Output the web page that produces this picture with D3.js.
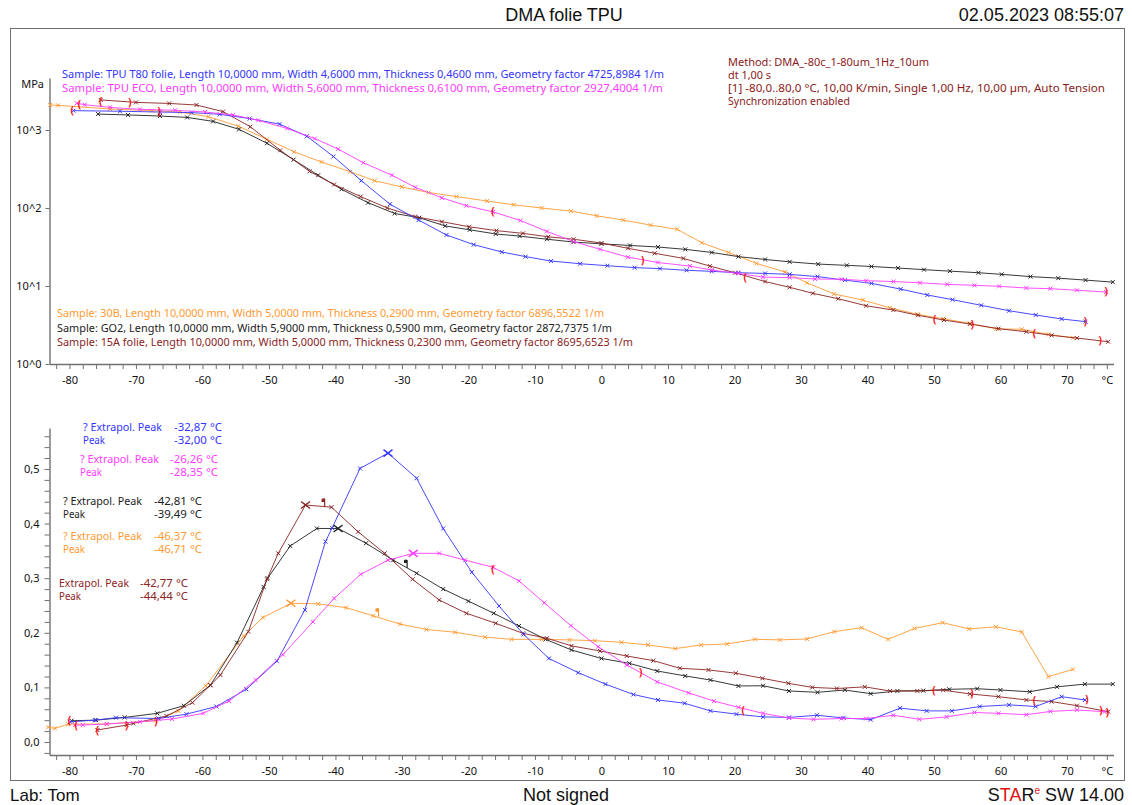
<!DOCTYPE html>
<html><head><meta charset="utf-8">
<script src="https://cdn.jsdelivr.net/npm/d3@7"></script>
<style>body{margin:0;background:#fff}svg{display:block}</style>
</head><body><svg id="c" width="1132" height="805"></svg>
<script>
// ---------- DATA ----------
// Storage modulus E' [MPa] vs temperature [°C]
const modT80 = [[-79.4,1770],[-72.4,1740],[-66.4,1700],[-61.6,1670],[-57.4,1590],[-52.9,1400],[-48.4,1190],[-44.3,832],[-40.3,457],[-36.1,224],[-31.8,112],[-27.5,70.1],[-23.3,45.1],[-19.2,33.9],[-15.0,27.3],[-11.4,23.8],[-7.6,20.9],[-3.2,19.3],[0.9,18.2],[5.0,17.2],[8.8,16.7],[12.8,15.9],[16.6,15.4],[20.6,14.8],[24.6,14.5],[28.3,14.1],[32.5,13.2],[36.6,11.9],[40.6,10.8],[45.0,9.12],[49.0,7.67],[52.8,6.68],[57.1,5.65],[61.3,4.82],[65.3,4.25],[69.2,3.78],[72.8,3.49]];
const modECO = [[-78.9,2200],[-77.7,2110],[-73.9,1950],[-69.4,1840],[-64.1,1790],[-59.6,1700],[-55.4,1560],[-51.6,1330],[-47.3,1050],[-43.1,776],[-39.6,570],[-35.8,380],[-31.5,263],[-28.0,184],[-24.0,135],[-20.3,107],[-16.3,89.1],[-12.2,69.2],[-8.2,50.1],[-4.2,37.2],[-0.2,29.5],[4.0,23.4],[8.5,20.0],[13.3,18.0],[16.6,16.0],[20.6,14.5],[24.3,13.0],[28.3,12.8],[32.1,12.3],[36.1,12.2],[39.8,11.7],[43.9,11.4],[47.9,11.0],[52.0,10.5],[56.1,10.2],[59.8,9.91],[63.9,9.42],[67.5,9.25],[71.5,8.81],[75.9,8.38]];
const mod30B = [[-82.9,2090],[-81.7,2070],[-73.9,1860],[-67.6,1770],[-63.4,1700],[-59.1,1480],[-54.6,1120],[-50.3,759],[-46.2,525],[-42.1,389],[-37.8,292],[-34.1,224],[-30.0,186],[-26.0,158],[-21.8,140],[-17.2,123],[-13.2,110],[-9.0,100],[-4.6,91.2],[-0.7,79.4],[3.3,70.1],[7.4,60.3],[11.4,53.3],[15.1,35.9],[19.1,26.9],[23.3,19.5],[27.6,15.1],[30.9,11.0],[35.0,7.89],[39.3,6.61],[43.4,5.25],[47.5,4.34],[51.4,3.80],[55.4,3.31],[59.4,2.82],[63.2,2.79],[67.2,2.40],[70.9,2.17]];
const modGO2 = [[-75.7,1600],[-71.2,1560],[-66.4,1510],[-62.3,1450],[-58.4,1290],[-54.5,1020],[-50.3,676],[-46.3,417],[-42.6,263],[-39.1,174],[-35.1,117],[-31.1,85.1],[-27.4,75],[-23.5,58.9],[-19.8,52.5],[-15.9,46.5],[-12.3,43.6],[-8.2,39.8],[-4.2,36.6],[0,34.7],[4.3,33.1],[8.5,31.6],[12.6,29.5],[16.6,26.9],[20.6,23.8],[24.6,21.9],[28.3,20.4],[32.6,19.1],[36.9,18.4],[40.6,17.8],[44.6,17.0],[48.5,16.2],[52.4,15.5],[56.7,14.8],[60.2,14.1],[64.5,13.2],[68.7,12.6],[72.8,11.9],[76.9,11.2]];
const mod15A = [[-75.3,2430],[-70.0,2260],[-65.0,2190],[-60.9,2090],[-56.9,1720],[-52.8,1100],[-48.3,550],[-43.9,295],[-40.2,200],[-36.2,140],[-32.2,100],[-28.0,77.6],[-24.0,66.8],[-19.9,57.5],[-15.8,51.3],[-11.8,47.3],[-8.0,42.7],[-4.2,39.8],[0,35.5],[4.0,30.4],[8.0,26.3],[12.3,22.6],[16.3,18.0],[20.1,14.8],[24.6,11.4],[28.3,9.62],[31.8,8.05],[35.6,6.87],[39.8,5.58],[43.9,4.92],[47.6,4.21],[51.5,3.66],[55.4,3.26],[59.7,2.84],[63.9,2.59],[67.7,2.33],[71.5,2.15],[76.2,1.93]];

// tan delta vs temperature [°C]
const tanT80 = [[-79.9,0.037],[-76.2,0.040],[-73.0,0.0445],[-66.6,0.043],[-62.4,0.051],[-57.9,0.065],[-53.4,0.0965],[-48.8,0.148],[-44.6,0.242],[-41.5,0.367],[-40.5,0.392],[-36.3,0.501],[-32.1,0.529],[-27.8,0.483],[-23.8,0.391],[-19.5,0.311],[-15.4,0.249],[-11.7,0.197],[-7.9,0.153],[-3.5,0.127],[0.6,0.106],[4.8,0.087],[8.5,0.077],[12.5,0.071],[16.4,0.057],[20.3,0.051],[24.3,0.046],[28.2,0.045],[32.4,0.049],[36.4,0.044],[40.5,0.041],[44.9,0.062],[48.9,0.057],[52.7,0.057],[56.9,0.065],[61.3,0.068],[65.3,0.065],[69.2,0.083],[72.7,0.077]];
const tanECO = [[-79.2,0.031],[-78.0,0.031],[-74.4,0.033],[-69.4,0.037],[-64.6,0.042],[-59.9,0.0525],[-56.0,0.075],[-52.0,0.1135],[-47.9,0.160],[-43.4,0.220],[-40.2,0.263],[-36.2,0.307],[-32.1,0.333],[-28.3,0.3455],[-24.4,0.3455],[-20.5,0.333],[-16.3,0.320],[-12.4,0.295],[-8.6,0.255],[-4.6,0.213],[-0.5,0.1745],[3.8,0.141],[8.4,0.110],[13.1,0.090],[16.9,0.075],[20.6,0.0635],[24.3,0.0525],[28.2,0.044],[31.9,0.0415],[36.1,0.043],[39.8,0.043],[43.9,0.049],[47.8,0.0415],[51.9,0.046],[56.1,0.054],[59.7,0.0525],[63.9,0.050],[67.5,0.056],[71.5,0.0586],[75.7,0.0555]];
const tan30B = [[-83.2,0.027],[-82.2,0.025],[-80.2,0.0325],[-74.4,0.033],[-67.0,0.039],[-63.6,0.057],[-59.5,0.103],[-53.8,0.194],[-50.9,0.228],[-46.7,0.254],[-42.6,0.253],[-38.4,0.246],[-34.3,0.231],[-30.3,0.216],[-26.3,0.206],[-22.0,0.201],[-17.5,0.192],[-13.5,0.188],[-9.0,0.188],[-4.8,0.187],[-1.0,0.1855],[3.0,0.1826],[7.0,0.1777],[11.1,0.171],[15.0,0.1777],[18.9,0.1795],[23.1,0.188],[26.8,0.187],[30.9,0.1886],[35.0,0.202],[39.1,0.2093],[43.1,0.188],[47.1,0.208],[51.3,0.2185],[55.3,0.207],[59.3,0.211],[63.2,0.2015],[67.2,0.1196],[70.9,0.133]];
const tanGO2 = [[-79.7,0.039],[-76.0,0.040],[-71.7,0.045],[-66.8,0.0525],[-62.8,0.0665],[-58.8,0.104],[-54.8,0.182],[-50.8,0.284],[-50.2,0.300],[-46.8,0.359],[-42.8,0.391],[-39.6,0.391],[-35.4,0.364],[-31.3,0.333],[-27.8,0.309],[-23.8,0.280],[-20.0,0.258],[-16.2,0.2357],[-12.4,0.2125],[-8.4,0.188],[-4.5,0.1685],[0,0.153],[4.2,0.144],[8.4,0.130],[12.6,0.121],[16.4,0.1135],[20.6,0.1026],[24.3,0.103],[28.2,0.0934],[32.5,0.091],[36.6,0.0952],[40.5,0.0885],[44.5,0.0934],[48.4,0.094],[52.3,0.0965],[56.5,0.0976],[60.0,0.0952],[64.4,0.092],[68.5,0.101],[72.7,0.106],[76.9,0.106]];
const tan15A = [[-75.8,0.022],[-71.4,0.031],[-70.4,0.034],[-65.4,0.0476],[-61.5,0.072],[-58.8,0.104],[-57.3,0.1227],[-53.1,0.202],[-50.3,0.298],[-48.6,0.3455],[-44.5,0.434],[-40.6,0.430],[-36.6,0.385],[-32.6,0.3455],[-28.4,0.298],[-24.4,0.260],[-20.3,0.2357],[-15.9,0.2174],[-11.8,0.199],[-8.2,0.190],[-4.5,0.176],[-0.2,0.1667],[3.8,0.1575],[7.8,0.149],[11.8,0.135],[16.1,0.132],[20.2,0.126],[24.2,0.1167],[28.1,0.1075],[31.7,0.100],[35.4,0.098],[39.6,0.101],[43.4,0.0934],[47.5,0.0934],[51.4,0.095],[55.4,0.088],[59.7,0.083],[63.9,0.077],[67.7,0.074],[71.5,0.0665],[76.2,0.0555]];

// tan delta peaks [T, value]
const peakT80 = [-32.1,0.529], peakECO = [-28.3,0.3455], peakGO2 = [-39.6,0.391], peak30B = [-46.7,0.254], peak15A = [-44.5,0.434];
// small extrapolated-peak flags [T, value]
const flagsGO2 = [[-29.3,0.326]], flags30B = [[-33.6,0.237]], flags15A = [[-41.7,0.438]];

// evaluation-limit brackets [T, value, glyph]
const bracketsTop = [[-79.6,1770,"("],[-78.5,2140,"("],[-75.3,2350,"("],[-70.9,2240,")"],[-66.5,1720,")"],[-16.3,89,"("],[6.2,21.4,")"],[21.6,12.9,"("],[50.1,3.76,"("],[55.8,3.24,")"],[65.1,2.48,"("],[75.0,2.0,")"],[75.9,8.38,")"],[72.8,3.49,")"]];
const bracketsBot = [[-80.0,0.039,"("],[-79.0,0.030,"("],[-75.8,0.021,"("],[-71.4,0.031,")"],[-67.0,0.037,")"],[-16.3,0.315,"("],[5.9,0.128,")"],[21.3,0.0586,"("],[50.0,0.0934,"("],[55.7,0.088,")"],[65.1,0.0757,"("],[73.0,0.077,")"],[75.1,0.057,")"],[76.1,0.054,")"]];

// texts
const sampleT80 = "Sample: TPU T80 folie, Length 10,0000 mm, Width 4,6000 mm, Thickness 0,4600 mm, Geometry factor 4725,8984 1/m";
const sampleECO = "Sample: TPU ECO, Length 10,0000 mm, Width 5,6000 mm, Thickness 0,6100 mm, Geometry factor 2927,4004 1/m";
const sample30B = "Sample: 30B, Length 10,0000 mm, Width 5,0000 mm, Thickness 0,2900 mm, Geometry factor 6896,5522 1/m";
const sampleGO2 = "Sample: GO2, Length 10,0000 mm, Width 5,9000 mm, Thickness 0,5900 mm, Geometry factor 2872,7375 1/m";
const sample15A = "Sample: 15A folie, Length 10,0000 mm, Width 5,0000 mm, Thickness 0,2300 mm, Geometry factor 8695,6523 1/m";
const methodLines = ["Method: DMA_-80c_1-80um_1Hz_10um","dt 1,00 s","[1] -80,0..80,0 °C, 10,00 K/min, Single 1,00 Hz, 10,00 µm, Auto Tension","Synchronization enabled"];
const peakLabels = [
  ["? Extrapol. Peak","-32,87 °C","Peak","-32,00 °C"],
  ["? Extrapol. Peak","-26,26 °C","Peak","-28,35 °C"],
  ["? Extrapol. Peak","-42,81 °C","Peak","-39,49 °C"],
  ["? Extrapol. Peak","-46,37 °C","Peak","-46,71 °C"],
  ["Extrapol. Peak","-42,77 °C","Peak","-44,44 °C"]];
const xTickValues = d3.range(-82, 77, 2);
const xLabelValues = d3.range(-80, 71, 10);
const yTopTicks = [1, 10, 100, 1000];
const yTopLabels = ["10^0","10^1","10^2","10^3"];
const yBotTicks = d3.range(-2, 57, 2).map(d => d/100);

// ---------- DRAWING ----------
const C = {t80:"#3535ff", eco:"#ff3cff", b30:"#ff9a33", go2:"#222222", a15:"#8b2525"};
const FONT = "'Noto Sans', 'DejaVu Sans', sans-serif";
const svg = d3.select('#c');

svg.append('rect').attr('x',10.5).attr('y',28.5).attr('width',1114).attr('height',752)
  .attr('fill','none').attr('stroke','#6e6e6e').attr('stroke-width',1);

const x = d3.scaleLinear().domain([-83,77]).range([49.5,1113.5]);
const yTop = d3.scaleLog().domain([1, Math.pow(10, 286/78)]).range([364,78]);
const yBot = d3.scaleLinear().domain([-0.0238,0.575]).range([755,428]);

function styleAxis(g){
  g.select('.domain').attr('stroke','#707070').attr('stroke-width',1.4);
  g.selectAll('.tick line').attr('stroke','#707070').attr('stroke-width',1);
  g.selectAll('text').attr('fill','#111').style('font-family',FONT).style('font-size','11px');
}
function xFmt(d){ if (d===76) return '°C'; return xLabelValues.includes(d) ? String(d) : ''; }

// top axes
svg.append('g').attr('transform','translate(0,364)')
  .call(d3.axisBottom(x).tickValues(xTickValues).tickFormat(xFmt).tickSize(5).tickPadding(7).tickSizeOuter(0))
  .call(styleAxis);
svg.append('g').attr('transform','translate(49.5,0)')
  .call(d3.axisLeft(yTop).tickValues(yTopTicks).tickFormat((d,i)=>yTopLabels[i]).tickSize(4).tickPadding(4).tickSizeOuter(0))
  .call(styleAxis);
svg.append('text').attr('x',44).attr('y',88).attr('text-anchor','end').style('font-family',FONT).style('font-size','11px').attr('fill','#111').text('MPa');

// bottom axes
svg.append('g').attr('transform','translate(0,755)')
  .call(d3.axisBottom(x).tickValues(xTickValues).tickFormat(xFmt).tickSize(5).tickPadding(7).tickSizeOuter(0))
  .call(styleAxis);
svg.append('g').attr('transform','translate(49.5,0)')
  .call(d3.axisLeft(yBot).tickValues(yBotTicks).tickFormat(d => { const n = Math.round(d*100); return (n>=0 && n%10===0) ? ('0,'+(n/10)) : ''; }).tickSize(5).tickPadding(5).tickSizeOuter(0))
  .call(styleAxis);

// series
function drawSeries(data, yS, color){
  const line = d3.line().x(d=>x(d[0])).y(d=>yS(d[1]));
  svg.append('path').datum(data).attr('d',line).attr('fill','none').attr('stroke',color).attr('stroke-width',1).attr('stroke-opacity',0.9);
  svg.append('g').selectAll('path').data(data).join('path')
    .attr('transform',d=>`translate(${x(d[0])},${yS(d[1])})`)
    .attr('d','M-2,-2L2,2M-2,2L2,-2').attr('stroke',color).attr('stroke-width',1);
}
[[mod30B,C.b30],[modGO2,C.go2],[mod15A,C.a15],[modT80,C.t80],[modECO,C.eco]].forEach(s=>drawSeries(s[0],yTop,s[1]));
[[tan30B,C.b30],[tanGO2,C.go2],[tan15A,C.a15],[tanT80,C.t80],[tanECO,C.eco]].forEach(s=>drawSeries(s[0],yBot,s[1]));

// peak markers
[[peakT80,C.t80],[peakECO,C.eco],[peakGO2,C.go2],[peak30B,C.b30],[peak15A,C.a15]].forEach(p=>{
  svg.append('path').attr('transform',`translate(${x(p[0][0])},${yBot(p[0][1])})`)
    .attr('d','M-4.5,-3.5L4.5,3.5M-4.5,3.5L4.5,-3.5').attr('stroke',p[1]).attr('stroke-width',1.4);
});
// flags
[[flagsGO2,C.go2],[flags30B,C.b30],[flags15A,C.a15]].forEach(f=>{
  svg.append('g').selectAll('path').data(f[0]).join('path')
    .attr('transform',d=>`translate(${x(d[0])},${yBot(d[1])})`)
    .attr('d','M0.5,4L0.5,-4M0.5,-4L-2,-3.5L-2,-1.5L0.5,-1.5')
    .attr('fill',f[1]).attr('stroke',f[1]).attr('stroke-width',1.2);
});

// brackets
function drawBrackets(arr, yS){
  svg.append('g').selectAll('text').data(arr).join('text')
    .attr('x',d=>x(d[0])).attr('y',d=>yS(d[1])+3.5).attr('text-anchor','middle')
    .style('font-family',FONT).style('font-size','10px').style('font-weight','bold').attr('fill','#ff1010')
    .text(d=>d[2]);
}
drawBrackets(bracketsTop, yTop);
drawBrackets(bracketsBot, yBot);

// text helper
function txt(str, xx, yy, color, opts={}){
  const t = svg.append('text').attr('x',xx).attr('y',yy).attr('fill',color)
    .style('font-family',opts.font||FONT).style('font-size',(opts.size||11)+'px')
    .attr('text-anchor',opts.anchor||'start').text(str);
  if (opts.len) t.attr('textLength',opts.len).attr('lengthAdjust','spacingAndGlyphs');
  return t;
}
// legends
txt(sampleT80, 62, 78, C.t80, {len:602});
txt(sampleECO, 62, 92, C.eco, {len:601});
txt(sample30B, 57, 317, C.b30, {len:547});
txt(sampleGO2, 57, 332, C.go2, {len:555});
txt(sample15A, 57, 346, C.a15, {len:576});
const mLens = [201, 43, 377, 122];
methodLines.forEach((m,i)=>txt(m, 728, 66+i*13, '#8b1a1a', {len:mLens[i]}));

// peak legends
const pl = [
  {c:C.t80, x1:83, x2:222, y:431, w:79},
  {c:C.eco, x1:80, x2:218, y:463, w:79},
  {c:C.go2, x1:63, x2:202, y:505, w:79},
  {c:C.b30, x1:63, x2:202, y:540, w:79},
  {c:C.a15, x1:59, x2:188, y:587, w:70}];
pl.forEach((p,i)=>{
  const L = peakLabels[i];
  txt(L[0], p.x1, p.y, p.c, {len:p.w, size:10});
  txt(L[1], p.x2 - 48, p.y, p.c, {len:48, size:10});
  txt(L[2], p.x1, p.y+12.5, p.c, {len:22, size:10});
  txt(L[3], p.x2 - 48, p.y+12.5, p.c, {len:48, size:10});
});

// header / footer
const AF = "'Liberation Sans', Arial, sans-serif";
txt('DMA folie TPU', 564, 21, '#111', {font:AF, size:18, anchor:'middle'});
txt('02.05.2023 08:55:07', 1124, 21, '#111', {font:AF, size:18, anchor:'end'});
txt('Lab: Tom', 10, 801, '#111', {font:AF, size:17});
txt('Not signed', 566, 801, '#111', {font:AF, size:18, anchor:'middle'});
const st = svg.append('text').attr('x',1124).attr('y',801).attr('text-anchor','end')
  .style('font-family',AF).style('font-size','18px').attr('fill','#111');
st.append('tspan').text('S');
st.append('tspan').attr('fill','#e01010').text('TA');
st.append('tspan').text('R');
st.append('tspan').attr('fill','#e01010').attr('dy',-7).style('font-size','10px').text('e');
st.append('tspan').attr('dy',7).text(' SW 14.00');
</script></body></html>
